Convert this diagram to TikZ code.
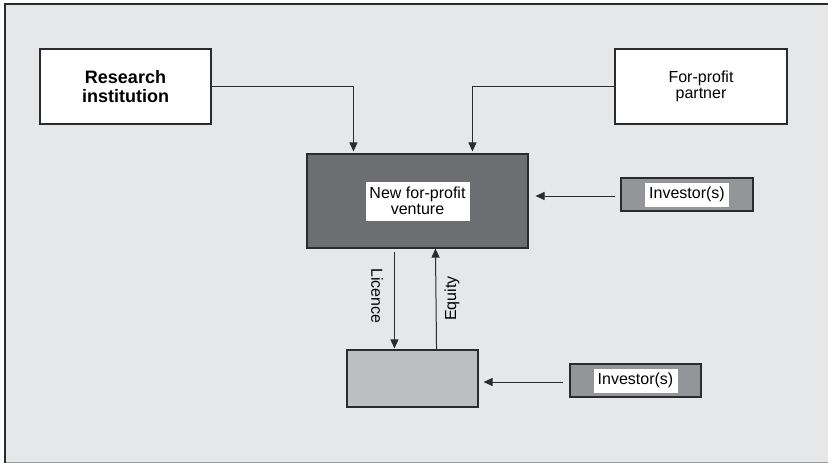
\documentclass[tikz,border=0pt]{standalone}
\usepackage{fontspec}
\setmainfont{Liberation Sans}
\usetikzlibrary{arrows.meta,positioning}
\definecolor{panelbg}{HTML}{E6E7E8}
\definecolor{edgeclr}{HTML}{2B2B2D}
\definecolor{ventfill}{HTML}{6D6E71}
\definecolor{invfill}{HTML}{939598}
\definecolor{subfill}{HTML}{BCBEC0}
\tikzset{
  box/.style={draw=edgeclr,line width=1.1pt,inner sep=0pt,align=center,
    font=\fontsize{16}{16.5}\selectfont},
  whitetag/.style={fill=white,inner sep=0pt,align=center,
    font=\fontsize{16}{16}\selectfont},
  flow/.style={-{Triangle[length=9pt,width=8pt]},line width=1pt,draw=edgeclr},
  flowlbl/.style={font=\fontsize{16}{16}\selectfont,inner sep=0pt},
}
\begin{document}
\begin{tikzpicture}[x=1pt,y=-1pt]
  \useasboundingbox (0,0) rectangle (828,463);
  % panel
  \fill[panelbg] (5,4) rectangle (828,463);
  \draw[black!40,line width=1pt] (5,462.5) -- (828,462.5);
  \draw[edgeclr,line width=1.5pt] (5,463) -- (5,4) -- (828,4);

  % boxes
  \node[box,fill=white,minimum width=171pt,minimum height=75pt,
    font=\bfseries\fontsize{18}{19.5}\selectfont] (ri) at (125.5,86.5) {Research\\institution};
  \node[box,fill=white,minimum width=172pt,minimum height=75pt] (fpp) at (701,86.5) {For-profit\\partner};
  \node[box,fill=ventfill,minimum width=221pt,minimum height=94pt] (nfv) at (417.5,201) {};
  \node[whitetag,minimum width=104pt,minimum height=39pt] (nfvtxt) at (nfv) {New for-profit\\venture};
  \node[box,fill=invfill,minimum width=132pt,minimum height=33pt] (inva) at (687,194.5) {};
  \node[whitetag,minimum width=84pt,minimum height=24pt] (invatxt) at (inva) {Investor(s)};
  \node[box,fill=subfill,minimum width=131pt,minimum height=57pt] (sub) at (412.5,378.5) {};
  \node[box,fill=invfill,minimum width=131pt,minimum height=33pt] (invb) at (635.5,380.5) {};
  \node[whitetag,minimum width=84pt,minimum height=24pt] (invbtxt) at (invb) {Investor(s)};
  \node[flowlbl,rotate=-90] (lic) at (377,296) {Licence};
  \node[flowlbl,rotate=90] (eqt) at (452,298.5) {Equity};

  % connectors
  \draw[flow,shorten >=2pt] (ri.east) -| ([xshift=47pt]nfv.north west);
  \draw[flow,shorten >=2pt] (fpp.west) -| ([xshift=166pt]nfv.north west);
  \draw[flow,shorten <=5pt,shorten >=7pt] ([yshift=-1.5pt]inva.west) -- ([yshift=-1.5pt]inva.west -| nfv.east);
  \draw[flow,shorten <=3pt,shorten >=1pt] ([xshift=88pt]nfv.south west) -- ([xshift=48pt]sub.north west);
  \draw[flow] ([xshift=-42pt]sub.north east) -- ([xshift=129pt]nfv.south west);
  \draw[flow,shorten <=6pt,shorten >=5pt] ([yshift=-1.5pt]invb.west) -- ([yshift=-1.5pt]invb.west -| sub.east);
\end{tikzpicture}
\end{document}
